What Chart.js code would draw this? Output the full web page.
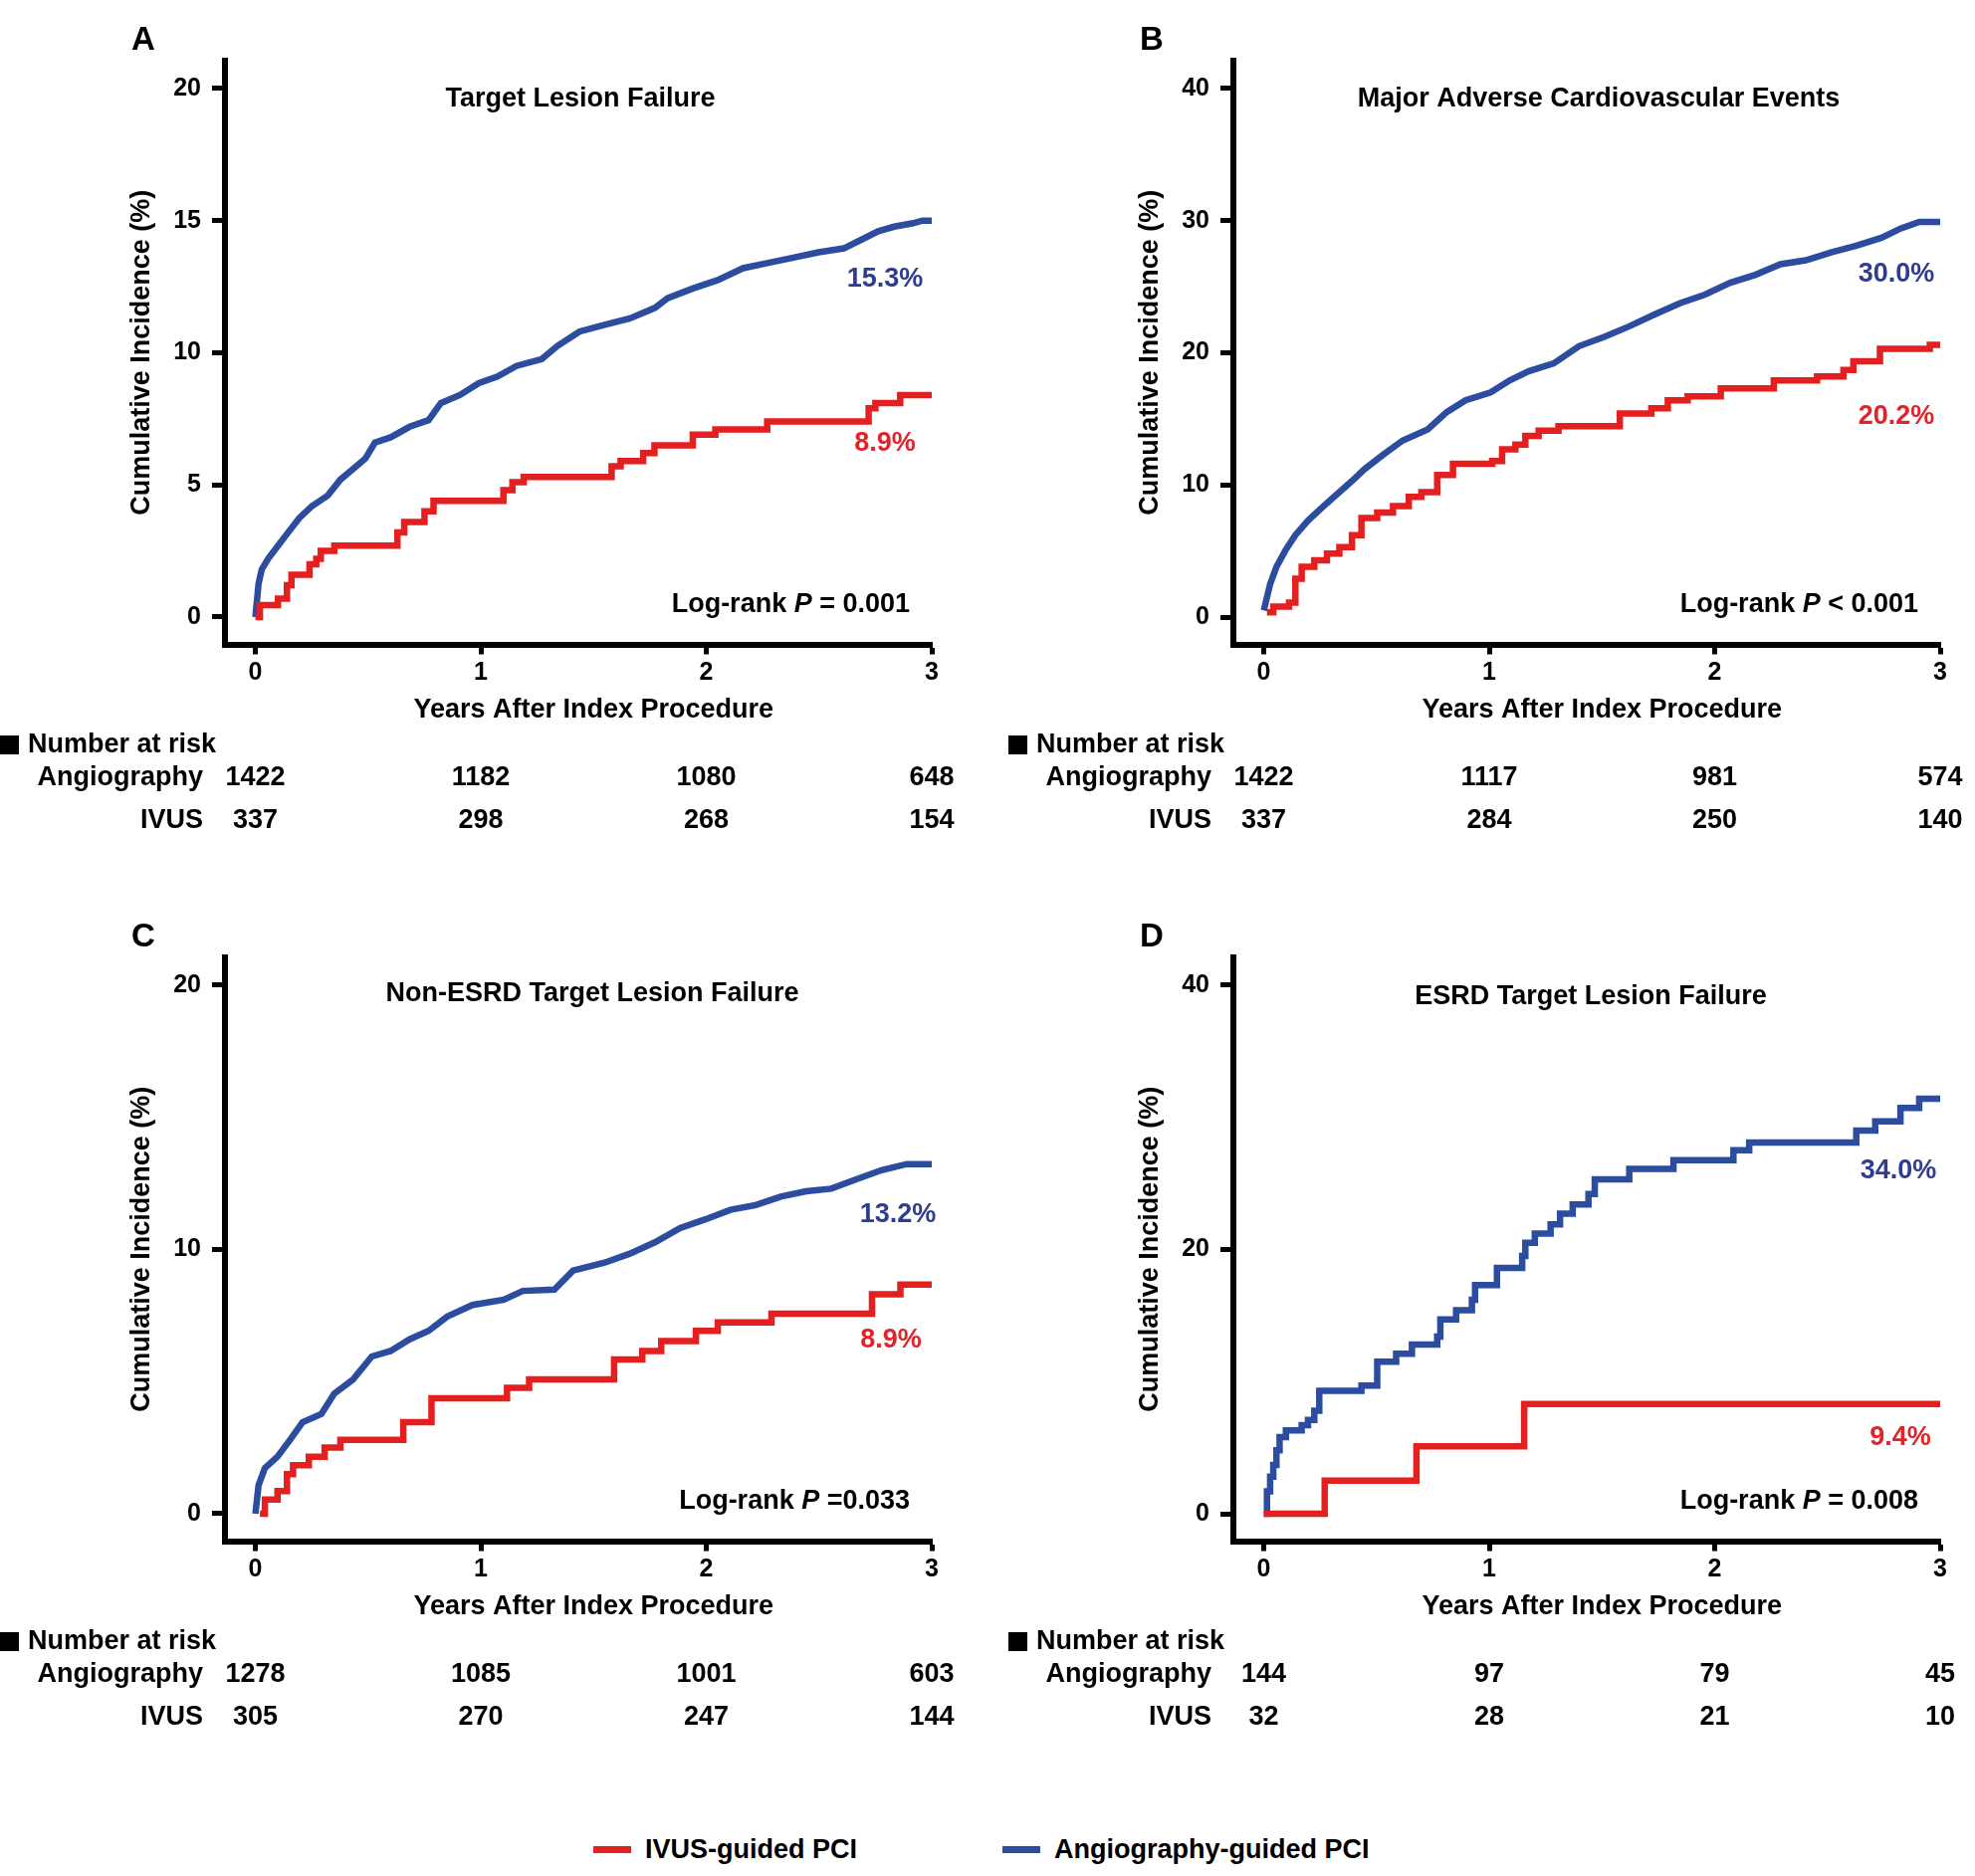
<!DOCTYPE html>
<html><head><meta charset="utf-8">
<script src="https://cdn.jsdelivr.net/npm/chart.js@4.4.1/dist/chart.umd.min.js"></script>
<style>
html,body{margin:0;padding:0;background:#fff;width:1984px;height:1885px;overflow:hidden;}
canvas{position:absolute;}
.leg{position:absolute;font:bold 27px "Liberation Sans",Arial,sans-serif;color:#000;line-height:32px;white-space:nowrap}
.sw{position:absolute;height:7px;width:38px}
</style></head><body>
<canvas id="cA" width="971" height="901" style="left:0px;top:0px"></canvas>
<canvas id="cB" width="971" height="901" style="left:1013px;top:0px"></canvas>
<canvas id="cC" width="971" height="901" style="left:0px;top:901px"></canvas>
<canvas id="cD" width="971" height="901" style="left:1013px;top:901px"></canvas>
<div class="sw" style="left:596px;top:1855px;background:#e3201f"></div>
<div class="leg" style="left:648px;top:1842px">IVUS-guided PCI</div>
<div class="sw" style="left:1007px;top:1855px;background:#2b4c9f"></div>
<div class="leg" style="left:1059px;top:1842px">Angiography-guided PCI</div>
<script>
// ---------- data ----------
const xTickValues = [0, 1, 2, 3];
const panelLetters = ['A', 'B', 'C', 'D'];
const panelTitles = ['Target Lesion Failure', 'Major Adverse Cardiovascular Events', 'Non-ESRD Target Lesion Failure', 'ESRD Target Lesion Failure'];
const yTicksA = [0, 5, 10, 15, 20];
const yTicksB = [0, 10, 20, 30, 40];
const yTicksC = [0, 10, 20];
const yTicksD = [0, 20, 40];
const endLabelsAngio = ['15.3%', '30.0%', '13.2%', '34.0%'];
const endLabelsIvus = ['8.9%', '20.2%', '8.9%', '9.4%'];
const logRankTail = [' = 0.001', ' < 0.001', ' =0.033', ' = 0.008'];
const riskRowNames = ['Angiography', 'IVUS'];

// Panel A
const aIvusT = [0, 0.02, 0.10, 0.14, 0.16, 0.24, 0.27, 0.29, 0.35, 0.63, 0.66, 0.75, 0.79, 1.10, 1.14, 1.19, 1.58, 1.62, 1.72, 1.77, 1.94, 2.04, 2.27, 2.72, 2.75, 2.86, 3.0];
const aIvusY = [0, 0.45, 0.7, 1.2, 1.6, 2.0, 2.2, 2.5, 2.7, 3.2, 3.6, 4.0, 4.4, 4.8, 5.1, 5.3, 5.7, 5.9, 6.2, 6.5, 6.9, 7.1, 7.4, 7.9, 8.1, 8.4, 8.4];
const aAngioT = [0, 0.014, 0.028, 0.056, 0.098, 0.154, 0.195, 0.251, 0.321, 0.377, 0.433, 0.488, 0.530, 0.600, 0.684, 0.768, 0.823, 0.907, 0.991, 1.074, 1.158, 1.270, 1.340, 1.437, 1.549, 1.661, 1.772, 1.828, 1.940, 2.051, 2.163, 2.275, 2.386, 2.498, 2.610, 2.693, 2.763, 2.833, 2.917, 2.958, 3.0];
const aAngioY = [0, 1.26, 1.8, 2.2, 2.67, 3.3, 3.75, 4.2, 4.6, 5.2, 5.6, 6.0, 6.6, 6.8, 7.2, 7.45, 8.1, 8.4, 8.85, 9.1, 9.5, 9.76, 10.26, 10.8, 11.06, 11.3, 11.7, 12.06, 12.43, 12.75, 13.2, 13.4, 13.6, 13.8, 13.95, 14.3, 14.6, 14.77, 14.9, 15.0, 15.0];
const aRiskAngio = [1422, 1182, 1080, 648];
const aRiskIvus = [337, 298, 268, 154];

// Panel B
const bIvusT = [0.014, 0.042, 0.112, 0.140, 0.168, 0.224, 0.280, 0.335, 0.391, 0.433, 0.503, 0.573, 0.643, 0.699, 0.769, 0.839, 1.013, 1.057, 1.116, 1.160, 1.219, 1.307, 1.579, 1.719, 1.792, 1.880, 2.027, 2.262, 2.454, 2.571, 2.615, 2.733, 2.954, 3.0];
const bIvusY = [0.35, 0.8, 1.1, 2.9, 3.8, 4.3, 4.8, 5.3, 6.2, 7.5, 7.9, 8.4, 9.1, 9.45, 10.75, 11.6, 11.8, 12.7, 13.05, 13.7, 14.1, 14.45, 15.4, 15.8, 16.4, 16.7, 17.3, 17.9, 18.2, 18.7, 19.35, 20.3, 20.6, 20.6];
const bAngioT = [0, 0.028, 0.056, 0.098, 0.140, 0.196, 0.266, 0.335, 0.391, 0.447, 0.531, 0.615, 0.727, 0.811, 0.895, 1.006, 1.090, 1.174, 1.286, 1.398, 1.510, 1.621, 1.733, 1.845, 1.957, 2.069, 2.181, 2.292, 2.404, 2.516, 2.628, 2.740, 2.824, 2.907, 3.0];
const bAngioY = [0.5, 2.5, 3.8, 5.1, 6.2, 7.3, 8.4, 9.45, 10.3, 11.2, 12.3, 13.35, 14.2, 15.5, 16.4, 17.0, 17.9, 18.6, 19.2, 20.5, 21.2, 22.0, 22.9, 23.75, 24.4, 25.3, 25.9, 26.7, 27.0, 27.6, 28.1, 28.7, 29.4, 29.9, 29.9];
const bRiskAngio = [1422, 1117, 981, 574];
const bRiskIvus = [337, 284, 250, 140];

// Panel C
const cIvusT = [0.02, 0.042, 0.098, 0.14, 0.167, 0.237, 0.307, 0.377, 0.656, 0.781, 1.116, 1.214, 1.591, 1.716, 1.800, 1.954, 2.051, 2.289, 2.735, 2.861, 3.0];
const cIvusY = [0, 0.54, 0.86, 1.5, 1.84, 2.16, 2.5, 2.8, 3.46, 4.37, 4.76, 5.08, 5.84, 6.16, 6.53, 6.92, 7.24, 7.57, 8.3, 8.67, 8.67];
const cAngioT = [0, 0.014, 0.042, 0.098, 0.154, 0.209, 0.293, 0.349, 0.433, 0.516, 0.600, 0.684, 0.768, 0.851, 0.963, 1.102, 1.186, 1.326, 1.409, 1.549, 1.661, 1.772, 1.884, 1.996, 2.107, 2.219, 2.330, 2.442, 2.554, 2.665, 2.777, 2.889, 3.0];
const cAngioY = [0, 1.08, 1.73, 2.16, 2.8, 3.46, 3.78, 4.54, 5.08, 5.95, 6.16, 6.6, 6.92, 7.46, 7.9, 8.1, 8.43, 8.48, 9.2, 9.5, 9.84, 10.27, 10.81, 11.14, 11.5, 11.68, 12.0, 12.2, 12.3, 12.65, 13.0, 13.23, 13.23];
const cRiskAngio = [1278, 1085, 1001, 603];
const cRiskIvus = [305, 270, 247, 144];

// Panel D
const dIvusT = [0, 0.27, 0.677, 1.155, 3.0];
const dIvusY = [0, 2.5, 5.1, 8.3, 8.3];
const dAngioT = [0, 0.014, 0.028, 0.042, 0.056, 0.070, 0.098, 0.168, 0.196, 0.224, 0.246, 0.433, 0.503, 0.587, 0.657, 0.769, 0.783, 0.853, 0.923, 0.937, 1.034, 1.146, 1.160, 1.202, 1.272, 1.314, 1.370, 1.440, 1.468, 1.621, 1.817, 2.083, 2.153, 2.628, 2.712, 2.824, 2.907, 3.0];
const dAngioY = [0, 1.7, 2.8, 3.7, 4.8, 5.8, 6.3, 6.7, 7.1, 7.8, 9.3, 9.7, 11.5, 12.1, 12.8, 13.4, 14.7, 15.4, 16.2, 17.3, 18.6, 19.5, 20.5, 21.2, 21.9, 22.7, 23.4, 24.2, 25.3, 26.1, 26.75, 27.5, 28.1, 29.0, 29.7, 30.7, 31.4, 31.4];
const dRiskAngio = [144, 97, 79, 45];
const dRiskIvus = [32, 28, 21, 10];

// ---------- styling / layout ----------
const FONT = '"Liberation Sans", Arial, Helvetica, sans-serif';
const RED = '#e3201f', BLUE = '#2b4c9f';
const RED_TXT = '#e0242a', BLUE_TXT = '#2f3d8f';
const LINE_W = 6.5;

const layouts = [
  { id: 'cA', yMin: -1.036, yMax: 21.05, yTicks: yTicksA, titleX: 583, titleY: 100, angioLab: [889, 281], ivusLab: [889, 446], stepAngio: false },
  { id: 'cB', yMin: -2.07, yMax: 42.1, yTicks: yTicksB, titleX: 593, titleY: 100, angioLab: [892, 276], ivusLab: [892, 419], stepAngio: false },
  { id: 'cC', yMin: -1.036, yMax: 21.05, yTicks: yTicksC, titleX: 595, titleY: 98, angioLab: [902, 320], ivusLab: [895, 446], stepAngio: false },
  { id: 'cD', yMin: -2.07, yMax: 42.1, yTicks: yTicksD, titleX: 585, titleY: 101, angioLab: [894, 276], ivusLab: [896, 544], stepAngio: true }
];
const series = [
  { ivT: aIvusT, ivY: aIvusY, anT: aAngioT, anY: aAngioY, rA: aRiskAngio, rI: aRiskIvus },
  { ivT: bIvusT, ivY: bIvusY, anT: bAngioT, anY: bAngioY, rA: bRiskAngio, rI: bRiskIvus },
  { ivT: cIvusT, ivY: cIvusY, anT: cAngioT, anY: cAngioY, rA: cRiskAngio, rI: cRiskIvus },
  { ivT: dIvusT, ivY: dIvusY, anT: dAngioT, anY: dAngioY, rA: dRiskAngio, rI: dRiskIvus }
];

function pts(T, Y) { return T.map((t, i) => ({ x: t, y: Y[i] })); }

const kmText = {
  id: 'kmText',
  afterDraw(chart, args, o) {
    const ctx = chart.ctx, xs = chart.scales.x;
    ctx.save();
    ctx.textBaseline = 'middle';
    ctx.textAlign = 'center';
    ctx.fillStyle = '#000';
    ctx.font = 'bold 33px ' + FONT;
    ctx.fillText(o.letter, 144, 41);
    ctx.font = 'bold 27px ' + FONT;
    ctx.fillText(o.title, o.titleX, o.titleY);
    ctx.fillText('Years After Index Procedure', xs.getPixelForValue(1.5), 714);
    // end-of-curve labels
    ctx.fillStyle = BLUE_TXT;
    ctx.fillText(o.angioEnd, o.angioLab[0], o.angioLab[1]);
    ctx.fillStyle = RED_TXT;
    ctx.fillText(o.ivusEnd, o.ivusLab[0], o.ivusLab[1]);
    // log-rank
    ctx.fillStyle = '#000';
    const f1 = 'bold 27px ' + FONT, f2 = 'italic bold 27px ' + FONT;
    const s1 = 'Log-rank ', s2 = 'P', s3 = o.logTail;
    ctx.font = f1; const w1 = ctx.measureText(s1).width, w3 = ctx.measureText(s3).width;
    ctx.font = f2; const w2 = ctx.measureText(s2).width;
    let x0 = 914 - (w1 + w2 + w3);
    ctx.textAlign = 'left';
    ctx.font = f1; ctx.fillText(s1, x0, 608);
    ctx.font = f2; ctx.fillText(s2, x0 + w1, 608);
    ctx.font = f1; ctx.fillText(s3, x0 + w1 + w2, 608);
    // number at risk
    ctx.fillRect(0, 739, 19, 19);
    ctx.fillText('Number at risk', 28, 749);
    ctx.textAlign = 'right';
    ctx.fillText(riskRowNames[0], 204, 782);
    ctx.fillText(riskRowNames[1], 204, 825);
    ctx.textAlign = 'center';
    o.riskA.forEach((n, i) => ctx.fillText(String(n), xs.getPixelForValue(xTickValues[i]), 782));
    o.riskI.forEach((n, i) => ctx.fillText(String(n), xs.getPixelForValue(xTickValues[i]), 825));
    ctx.restore();
  }
};

layouts.forEach((L, k) => {
  const S = series[k];
  new Chart(document.getElementById(L.id), {
    type: 'line',
    data: {
      datasets: [
        { label: 'IVUS-guided PCI', data: pts(S.ivT, S.ivY), borderColor: RED, borderWidth: LINE_W, stepped: true, pointRadius: 0, fill: false, borderJoinStyle: 'miter' },
        { label: 'Angiography-guided PCI', data: pts(S.anT, S.anY), borderColor: BLUE, borderWidth: LINE_W, stepped: L.stepAngio, tension: 0, pointRadius: 0, fill: false, borderJoinStyle: 'miter' }
      ]
    },
    options: {
      responsive: false,
      devicePixelRatio: 1,
      animation: false,
      events: [],
      layout: { padding: { left: 122, top: 61, right: 35, bottom: 213.5 } },
      plugins: {
        legend: { display: false },
        tooltip: { enabled: false },
        kmText: {
          letter: panelLetters[k], title: panelTitles[k], titleX: L.titleX, titleY: L.titleY,
          angioEnd: endLabelsAngio[k], ivusEnd: endLabelsIvus[k], angioLab: L.angioLab, ivusLab: L.ivusLab,
          logTail: logRankTail[k], riskA: S.rA, riskI: S.rI
        }
      },
      scales: {
        x: {
          type: 'linear', min: -0.135, max: 3,
          afterBuildTicks: (sc) => { sc.ticks = xTickValues.map(v => ({ value: v })); },
          afterFit: (sc) => { sc.height = 40; },
          ticks: { color: '#000', font: { family: FONT, size: 25, weight: 'bold' }, padding: 4, maxRotation: 0, autoSkip: false },
          grid: { display: true, drawOnChartArea: false, drawTicks: true, tickLength: 10, tickWidth: 5, tickColor: '#000' },
          border: { display: true, color: '#000', width: 6 }
        },
        y: {
          type: 'linear', min: L.yMin, max: L.yMax,
          afterBuildTicks: (sc) => { sc.ticks = L.yTicks.map(v => ({ value: v })); },
          afterFit: (sc) => { sc.width = 104; },
          ticks: { color: '#000', font: { family: FONT, size: 25, weight: 'bold' }, padding: 11, autoSkip: false },
          grid: { display: true, drawOnChartArea: false, drawTicks: true, tickLength: 13, tickWidth: 5, tickColor: '#000' },
          border: { display: true, color: '#000', width: 6 },
          title: { display: true, text: 'Cumulative Incidence (%)', color: '#000', font: { family: FONT, size: 27, weight: 'bold' }, padding: { top: 4, bottom: 4 } }
        }
      }
    },
    plugins: [kmText]
  });
});
</script>
</body></html>
